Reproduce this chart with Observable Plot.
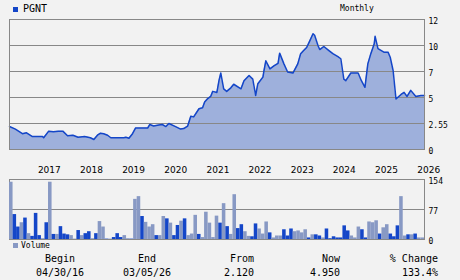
<!DOCTYPE html>
<html><head><meta charset="utf-8">
<script src="https://cdn.jsdelivr.net/npm/d3@7"></script>
<script src="https://cdn.jsdelivr.net/npm/@observablehq/plot@0.6"></script>
<style>
body{margin:0;background:#f2f2f2;}
#wrap{position:relative;width:460px;height:280px;overflow:hidden;background:#f2f2f2;font-family:"DejaVu Sans Mono",monospace;color:#000;}
.abs{position:absolute;white-space:nowrap;line-height:12px;}
#price,#vol{position:absolute;left:0;}
#price{top:0}
#vol{top:170px}
svg{overflow:visible}
</style></head><body><div id="wrap">
<div class="abs" style="left:13px;top:7px;width:5px;height:5px;background:#1446c8"></div>
<div class="abs" id="ticker" style="left:23px;top:3px;font-size:10px"></div>
<div class="abs" id="freq" style="left:340px;top:3px;font-size:8px"></div>
<div id="price"></div>
<div id="vol"></div>
<div class="abs" style="left:13px;top:243px;width:5px;height:5px;background:#8899c4"></div>
<div class="abs" id="volLabel" style="left:21px;top:240px;font-size:8px"></div>
<div id="table"></div>
</div>
<script>
const ticker = "PGNT";
const frequency = "Monthly";
const volumeLabel = "Volume";

const priceDates = ["2016-04-30","2016-06-20","2016-08-20","2016-09-25","2016-11-15","2017-02-10","2017-02-20","2017-04-05","2017-05-15","2017-06-28","2017-08-05","2017-09-15","2017-11-01","2017-12-15","2018-02-10","2018-04-01","2018-05-01","2018-06-01","2018-06-28","2018-07-25","2018-08-28","2018-09-25","2018-11-25","2019-01-15","2019-02-03","2019-03-01","2019-04-01","2019-04-28","2019-06-10","2019-08-10","2019-08-28","2019-10-01","2019-11-15","2019-12-15","2020-01-15","2020-02-10","2020-04-08","2020-05-22","2020-06-18","2020-07-22","2020-08-18","2020-09-12","2020-10-28","2020-11-28","2020-12-16","2021-01-12","2021-02-06","2021-02-24","2021-04-01","2021-04-20","2021-05-05","2021-05-30","2021-06-25","2021-07-31","2021-08-25","2021-10-27","2021-11-22","2022-01-05","2022-02-06","2022-03-03","2022-03-22","2022-05-05","2022-05-12","2022-05-30","2022-07-05","2022-08-08","2022-09-13","2022-09-27","2022-11-03","2022-12-05","2023-01-20","2023-03-03","2023-03-28","2023-04-23","2023-05-19","2023-06-17","2023-07-13","2023-07-27","2023-08-25","2023-09-09","2023-10-15","2023-11-28","2024-01-01","2024-02-14","2024-03-10","2024-04-05","2024-04-22","2024-06-05","2024-08-07","2024-09-02","2024-10-05","2024-10-30","2024-11-25","2024-12-24","2025-01-01","2025-01-26","2025-03-18","2025-04-23","2025-05-12","2025-06-06","2025-07-01","2025-08-14","2025-09-09","2025-10-05","2025-11-06","2025-12-20","2026-02-02","2026-03-05"];
const priceValues = [2.25,2.0,1.55,1.64,1.27,1.27,1.15,1.8,1.75,1.8,1.8,1.34,1.4,1.2,1.27,1.15,0.98,1.4,1.6,1.55,1.4,1.15,1.15,1.15,1.2,1.1,1.55,2.12,2.1,2.1,2.45,2.3,2.4,2.45,2.25,2.55,2.25,2.0,2.05,2.3,3.27,3.2,4.0,4.1,4.65,5.0,5.2,5.7,5.6,6.8,7.5,5.95,5.7,6.05,6.4,5.95,6.75,7.25,6.9,5.3,6.45,7.1,7.6,8.7,7.9,8.2,8.45,9.45,8.4,7.6,7.5,8.4,9.4,9.7,10.0,10.7,11.35,11.2,10.2,9.8,10.1,9.7,9.4,9.1,8.9,6.9,6.75,7.5,7.5,6.8,6.1,8.4,9.4,10.35,11.1,9.9,9.55,9.55,9.05,7.75,4.95,5.4,5.6,5.2,5.8,5.2,5.3,5.3];

const priceTicks = [0, 2.55, 5.1, 7.65, 10.2, 12.75];
const priceTickLabels = ["0", "2.55", "5", "7", "10", "12"];
const yearTicks = ["2017","2018","2019","2020","2021","2022","2023","2024","2025","2026"];
const dateStart = "2016-04-30";
const dateEnd = "2026-03-05";

const volumes = [147,64,32,43,55,15,8,67,10,2,43,147,13,13,33,14,12,10,1,23,10,15,20,2,15,46,32,1,1,5,15,5,10,2,1,103,110,59,44,32,38,10,10,59,53,42,10,36,47,53,10,14,62,13,5,70,42,5,60,42,92,33,
13,115,28,38,20,8,7,40,27,14,45,17,4,9,9,25,9,27,20,22,17,25,4,12,12,9,4,27,
2,7,4,4,35,22,9,4,32,25,4,45,43,48,14,30,38,14,7,35,110,9,12,12,14,4,4];
const volumeDir = ["L","D","D","L","D","L","D","D","D","L","D","L","D","L","D","D","D","L","L","D","L","D","D","L","D","L","L","D","L","D","D","D","L","L","D","L","L","D","L","L","L","D","L","L","D","L","D","D","L","D","L","L","L","D","L","L","L","L","L","D","L","D",
"L","L","D","D","L","L","D","D","L","L","L","D","L","L","L","D","D","D","L","L","L","L","D","L","D","D","L","D",
"D","D","D","D","D","D","L","L","L","D","D","L","L","L","D","L","L","D","D","D","L","L","D","L","D","L","L"];
const volumeTicks = [0, 77, 154];

const headers = ["Begin", "End", "From", "Now", "% Change"];
const summary = ["04/30/16", "03/05/26", "2.120", "4.950", "133.4%"];

document.getElementById("ticker").textContent = ticker;
document.getElementById("freq").textContent = frequency;
document.getElementById("volLabel").textContent = volumeLabel;

// summary table
const colPos = [{x:60,a:"center"},{x:147,a:"center"},{x:254,a:"right"},{x:340,a:"right"},{x:438,a:"right"}];
const tbl = document.getElementById("table");
[headers, summary].forEach((row, r) => {
  row.forEach((t, i) => {
    const d = document.createElement("div");
    d.className = "abs";
    d.style.fontSize = "10px";
    d.style.top = (r === 0 ? 253 : 267) + "px";
    d.style.width = "100px";
    const p = colPos[i];
    if (p.a === "center") { d.style.left = (p.x - 50) + "px"; d.style.textAlign = "center"; }
    else { d.style.left = (p.x - 100) + "px"; d.style.textAlign = "right"; }
    d.textContent = t;
    tbl.appendChild(d);
  });
});

const parse = d3.utcParse("%Y-%m-%d");
const priceData = priceDates.map((d, i) => ({date: parse(d), v: priceValues[i]}));
const grid = "#888888";

const price = Plot.plot({
  width: 460, height: 178,
  marginLeft: 9, marginRight: 36, marginTop: 19, marginBottom: 29,
  style: {background: "transparent", fontFamily: "DejaVu Sans", fontSize: "9px", color: "#000"},
  x: {type: "utc", domain: [parse(dateStart), parse(dateEnd)], axis: null},
  y: {domain: [0, 12.75], axis: null},
  marks: [
    Plot.areaY(priceData, {x: "date", y: "v", fill: "#9eb0dc"}),
    Plot.ruleY(priceTicks, {stroke: grid, strokeWidth: 1}),
    Plot.lineY(priceData, {x: "date", y: "v", stroke: "#1446c8", strokeWidth: 1.5}),
    Plot.frame({stroke: grid, strokeWidth: 1}),
    Plot.axisY(priceTicks, {anchor: "right", tickSize: 0, tickPadding: 4, label: null, dy: 2,
      tickFormat: (d) => priceTickLabels[priceTicks.indexOf(d)], fontFamily: "DejaVu Sans Mono", fontSize: 8}),
    Plot.axisX(yearTicks.map(y => parse(y + "-01-01")), {anchor: "bottom", tickSize: 0, tickPadding: 17, label: null,
      textAnchor: "start", tickFormat: d => String(d.getUTCFullYear()), fontSize: 9})
  ]
});
document.getElementById("price").appendChild(price);

const volData = volumes.map((v, i) => ({i, v, dir: volumeDir[i]}));
const vol = Plot.plot({
  width: 460, height: 80,
  marginLeft: 9, marginRight: 36, marginTop: 9, marginBottom: 11,
  style: {background: "transparent", fontFamily: "DejaVu Sans Mono", fontSize: "8px", color: "#000"},
  x: {type: "band", domain: volData.map(d => d.i), padding: 0, axis: null},
  y: {domain: [0, 154], axis: null},
  color: {domain: ["L", "D"], range: ["#8899c4", "#1446c8"]},
  marks: [
    Plot.ruleY([77], {stroke: grid}),
    Plot.frame({stroke: grid}),
    Plot.rectY(volData, {x: "i", y: "v", fill: "dir", inset: 0}),
    Plot.axisY(volumeTicks, {anchor: "right", tickSize: 0, tickPadding: 4, label: null, dy: 2, fontSize: 8})
  ]
});
document.getElementById("vol").appendChild(vol);
</script>
</body></html>
